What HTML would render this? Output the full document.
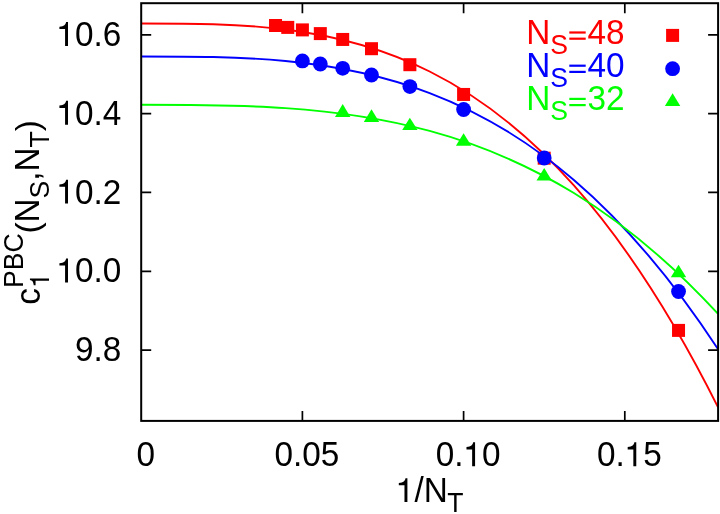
<!DOCTYPE html>
<html><head><meta charset="utf-8"><title>plot</title>
<style>
html,body{margin:0;padding:0;background:#fff;}
svg{display:block;will-change:transform;}
text{font-family:"Liberation Sans",sans-serif;}
</style></head><body>
<svg width="720" height="514" viewBox="0 0 720 514">
<rect x="0" y="0" width="720" height="514" fill="#fff"/>

<g fill="#f00" stroke="none"><rect x="269.03" y="19.00" width="13.0" height="13.0"/><rect x="281.25" y="20.90" width="13.0" height="13.0"/><rect x="295.90" y="23.40" width="13.0" height="13.0"/><rect x="313.81" y="27.10" width="13.0" height="13.0"/><rect x="336.20" y="32.95" width="13.0" height="13.0"/><rect x="364.99" y="42.20" width="13.0" height="13.0"/><rect x="403.37" y="58.20" width="13.0" height="13.0"/><rect x="457.10" y="87.95" width="13.0" height="13.0"/><rect x="537.70" y="151.70" width="13.0" height="13.0"/><rect x="672.03" y="323.90" width="13.0" height="13.0"/><rect x="666.10" y="28.90" width="13.0" height="13.0"/></g>
<path d="M141.20,23.51 C333.50,23.51 525.80,23.51 718.10,407.38" fill="none" stroke="#f00" stroke-width="1.9"/>
<g fill="#00f" stroke="none"><circle cx="302.40" cy="60.90" r="7.4"/><circle cx="320.31" cy="64.00" r="7.4"/><circle cx="342.70" cy="68.35" r="7.4"/><circle cx="371.49" cy="75.00" r="7.4"/><circle cx="409.87" cy="86.60" r="7.4"/><circle cx="463.60" cy="109.50" r="7.4"/><circle cx="544.20" cy="158.00" r="7.4"/><circle cx="678.53" cy="291.50" r="7.4"/><circle cx="672.60" cy="68.70" r="7.4"/></g>
<path d="M141.20,56.47 C333.50,56.47 525.80,56.47 718.10,349.19" fill="none" stroke="#00f" stroke-width="1.9"/>
<g fill="#0f0" stroke="none"><path d="M342.70,104.10 L350.40,116.90 L335.00,116.90 Z"/><path d="M371.49,109.20 L379.19,121.90 L363.79,121.90 Z"/><path d="M409.87,117.70 L417.57,130.10 L402.17,130.10 Z"/><path d="M463.60,133.30 L471.30,145.70 L455.90,145.70 Z"/><path d="M544.20,168.00 L551.90,180.50 L536.50,180.50 Z"/><path d="M678.53,264.80 L686.23,277.20 L670.83,277.20 Z"/><path d="M672.60,93.20 L680.30,106.00 L664.90,106.00 Z"/></g>
<path d="M141.20,104.81 C333.50,104.81 525.80,104.81 718.10,313.98" fill="none" stroke="#0f0" stroke-width="1.9"/>
<rect x="141.2" y="3.2" width="576.90" height="417.70" fill="none" stroke="#000" stroke-width="2"/>
<path d="M141.2,34.8 h10 M718.1,34.8 h-10 M141.2,113.6 h10 M718.1,113.6 h-10 M141.2,192.45 h10 M718.1,192.45 h-10 M141.2,271.3 h10 M718.1,271.3 h-10 M141.2,350.1 h10 M718.1,350.1 h-10 M302.4,420.9 v-10 M302.4,3.2 v10 M463.6,420.9 v-10 M463.6,3.2 v10 M624.8,420.9 v-10 M624.8,3.2 v10 " fill="none" stroke="#000" stroke-width="1.7"/>
<g fill="#000">
<path transform="translate(56.05,45.90) scale(0.03330,-0.03330)" d="M271 0 L359 0 L359 716 L301 716 C288 640 245 585 101 573 L101 505 L271 505 Z"/>
<text transform="translate(75.01,45.90) scale(1,1.06)" font-size="33.3" text-anchor="start">0.6</text>
<path transform="translate(56.05,124.70) scale(0.03330,-0.03330)" d="M271 0 L359 0 L359 716 L301 716 C288 640 245 585 101 573 L101 505 L271 505 Z"/>
<text transform="translate(75.01,124.70) scale(1,1.06)" font-size="33.3" text-anchor="start">0.4</text>
<path transform="translate(56.05,203.55) scale(0.03330,-0.03330)" d="M271 0 L359 0 L359 716 L301 716 C288 640 245 585 101 573 L101 505 L271 505 Z"/>
<text transform="translate(75.01,203.55) scale(1,1.06)" font-size="33.3" text-anchor="start">0.2</text>
<path transform="translate(56.05,282.40) scale(0.03330,-0.03330)" d="M271 0 L359 0 L359 716 L301 716 C288 640 245 585 101 573 L101 505 L271 505 Z"/>
<text transform="translate(75.01,282.40) scale(1,1.06)" font-size="33.3" text-anchor="start">0.0</text>
<text transform="translate(75.01,361.20) scale(1,1.06)" font-size="33.3" text-anchor="start">9.8</text>
<text transform="translate(145.80,466.20) scale(1,1.06)" font-size="33.3" text-anchor="middle">0</text>
<text transform="translate(274.60,466.20) scale(1,1.06)" font-size="33.3" text-anchor="start">0.05</text>
<text transform="translate(435.80,466.20) scale(1,1.06)" font-size="33.3" text-anchor="start">0.</text>
<path transform="translate(463.12,466.20) scale(0.03330,-0.03330)" d="M271 0 L359 0 L359 716 L301 716 C288 640 245 585 101 573 L101 505 L271 505 Z"/>
<text transform="translate(482.09,466.20) scale(1,1.06)" font-size="33.3" text-anchor="start">0</text>
<text transform="translate(597.00,466.20) scale(1,1.06)" font-size="33.3" text-anchor="start">0.</text>
<path transform="translate(624.32,466.20) scale(0.03330,-0.03330)" d="M271 0 L359 0 L359 716 L301 716 C288 640 245 585 101 573 L101 505 L271 505 Z"/>
<text transform="translate(643.29,466.20) scale(1,1.06)" font-size="33.3" text-anchor="start">5</text>
<path transform="translate(395.45,502.00) scale(0.03330,-0.03330)" d="M271 0 L359 0 L359 716 L301 716 C288 640 245 585 101 573 L101 505 L271 505 Z"/><text transform="translate(414.41,502.00) scale(1,1.06)" font-size="33.3" text-anchor="start">/N</text><text transform="translate(447.31,511.80) scale(1,1.06)" font-size="26.6" text-anchor="start">T</text>
<text transform="translate(40.30,304.70) rotate(-90) scale(1,1.06)" font-size="33.3">c</text>
<text transform="translate(22.50,288.05) rotate(-90) scale(1,1.06)" font-size="26.6">PBC</text>
<path transform="translate(49.00,288.05) rotate(-90) scale(0.02660,-0.02660)" d="M271 0 L359 0 L359 716 L301 716 C288 640 245 585 101 573 L101 505 L271 505 Z"/>
<text transform="translate(39.20,233.56) rotate(-90) scale(1,1)" font-size="33.3">(</text>
<text transform="translate(39.20,222.47) rotate(-90) scale(1,1.06)" font-size="33.3">N</text>
<text transform="translate(49.00,198.43) rotate(-90) scale(1,1.06)" font-size="26.6">S</text>
<text transform="translate(39.20,180.69) rotate(-90) scale(1,1.06)" font-size="33.3">,N</text>
<text transform="translate(49.00,147.39) rotate(-90) scale(1,1.06)" font-size="26.6">T</text>
<text transform="translate(39.20,131.13) rotate(-90) scale(1,1)" font-size="33.3">)</text>
</g>
<g fill="#f00"><text transform="translate(526.20,43.70) scale(1,1.06)" font-size="33.3" text-anchor="start">N</text><text transform="translate(550.24,53.50) scale(1,1.06)" font-size="26.6" text-anchor="start">S</text><rect x="569.3" y="31.40" width="16.4" height="2.2"/><rect x="569.3" y="37.60" width="16.4" height="2.2"/><text transform="translate(587.43,43.70) scale(1,1.06)" font-size="33.3" text-anchor="start">48</text></g>
<g fill="#00f"><text transform="translate(526.20,76.90) scale(1,1.06)" font-size="33.3" text-anchor="start">N</text><text transform="translate(550.24,86.70) scale(1,1.06)" font-size="26.6" text-anchor="start">S</text><rect x="569.3" y="64.60" width="16.4" height="2.2"/><rect x="569.3" y="70.80" width="16.4" height="2.2"/><text transform="translate(587.43,76.90) scale(1,1.06)" font-size="33.3" text-anchor="start">40</text></g>
<g fill="#0f0"><text transform="translate(526.20,110.10) scale(1,1.06)" font-size="33.3" text-anchor="start">N</text><text transform="translate(550.24,119.90) scale(1,1.06)" font-size="26.6" text-anchor="start">S</text><rect x="569.3" y="97.80" width="16.4" height="2.2"/><rect x="569.3" y="104.00" width="16.4" height="2.2"/><text transform="translate(587.43,110.10) scale(1,1.06)" font-size="33.3" text-anchor="start">32</text></g>
</svg></body></html>
